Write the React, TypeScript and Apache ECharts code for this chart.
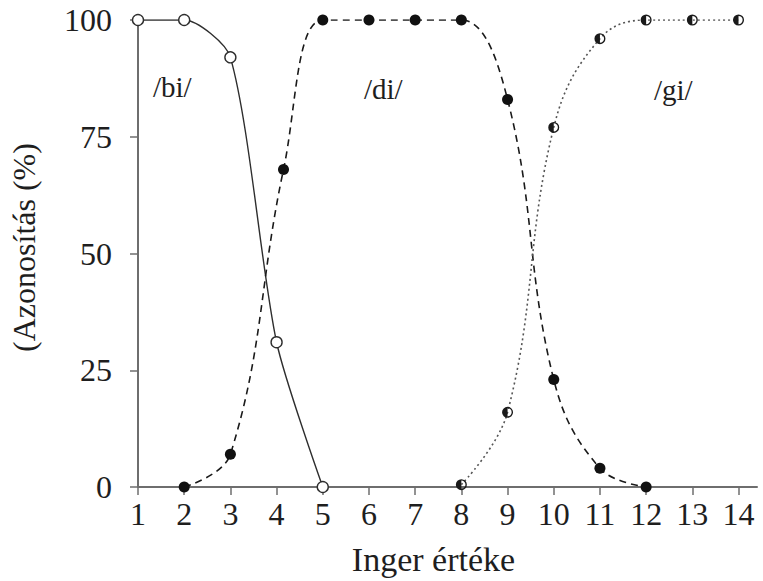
import React, { useEffect, useRef } from "react";
import * as echarts from "echarts";

// Stimulus steps on the horizontal axis
const stimulusTicks = [1, 2, 3, 4, 5, 6, 7, 8, 9, 10, 11, 12, 13, 14];
const percentTicks = [0, 25, 50, 75, 100];

// Identification curves (percent of responses)
const biX = [1, 2, 3, 4, 5];
const biY = [100, 100, 92, 31, 0];

const diX = [2, 3, 4.15, 5, 6, 7, 8, 9, 10, 11, 12];
const diY = [0, 7, 68, 100, 100, 100, 100, 83, 23, 4, 0];

const giX = [8, 9, 10, 11, 12, 13, 14];
const giY = [0.5, 16, 77, 96, 100, 100, 100];

const FONT = "Times New Roman, Liberation Serif, DejaVu Serif, serif";
const INK = "#1e1e1e";
const AXIS = "#6e6e6e";

// ring with its left half filled in
const HALF_DOT =
  "path://M10 0A10 10 0 1 1 10 20A10 10 0 1 1 10 0ZM10 2.5L10 17.5A7.5 7.5 0 0 0 10 2.5Z";

const pairs = (xs: number[], ys: number[]) => xs.map((x, i) => [x, ys[i]]);

export default function App() {
  const ref = useRef<HTMLDivElement>(null);

  useEffect(() => {
    if (!ref.current) return;
    const chart = echarts.init(ref.current, undefined, { renderer: "svg" });
    chart.setOption({
      animation: false,
      backgroundColor: "#ffffff",
      textStyle: { fontFamily: FONT },
      grid: { left: 136, right: 6, top: 20, bottom: 93 },
      xAxis: {
        type: "value",
        min: 1,
        max: 14.4,
        name: "Inger értéke",
        nameLocation: "middle",
        nameGap: 55,
        nameTextStyle: {
          fontFamily: FONT,
          fontSize: 34,
          color: INK,
          padding: [0, 28, 0, 0],
        },
        splitLine: { show: false },
        axisLine: { onZero: false, lineStyle: { color: AXIS, width: 2 } },
        axisTick: {
          customValues: stimulusTicks,
          length: 8,
          lineStyle: { color: AXIS, width: 1.5 },
        },
        axisLabel: {
          customValues: stimulusTicks,
          fontFamily: FONT,
          fontSize: 32,
          color: INK,
          margin: 11,
        },
      },
      yAxis: {
        type: "value",
        min: 0,
        max: 100,
        interval: 25,
        name: "(Azonosítás (%)",
        nameLocation: "middle",
        nameGap: 98,
        nameTextStyle: { fontFamily: FONT, fontSize: 32, color: INK, padding: [0, 0, 0, 12] },
        splitLine: { show: false },
        axisLine: { show: true, lineStyle: { color: AXIS, width: 2 } },
        axisTick: {
          show: true,
          customValues: percentTicks,
          length: 8,
          lineStyle: { color: AXIS, width: 1.5 },
        },
        axisLabel: {
          fontFamily: FONT,
          fontSize: 32,
          color: INK,
          margin: 26,
        },
      },
      graphic: [
        { type: "text", left: 153, top: 72, style: { text: "/bi/", fontFamily: FONT, fontSize: 29, fill: INK } },
        { type: "text", left: 364, top: 74, style: { text: "/di/", fontFamily: FONT, fontSize: 29, fill: INK } },
        { type: "text", left: 654, top: 75, style: { text: "/gi/", fontFamily: FONT, fontSize: 29, fill: INK } },
      ],
      series: [
        {
          name: "/bi/",
          type: "line",
          data: pairs(biX, biY),
          smooth: 0.25,
          symbol: "circle",
          symbolSize: 11,
          lineStyle: { color: "#2e2e2e", width: 1.4 },
          itemStyle: { color: "#ffffff", borderColor: "#2e2e2e", borderWidth: 1.4 },
          z: 3,
        },
        {
          name: "/di/",
          type: "line",
          data: pairs(diX, diY),
          smooth: 0.4,
          symbol: "circle",
          symbolSize: 11,
          lineStyle: { color: "#1a1a1a", width: 1.6, type: [7, 5] },
          itemStyle: { color: "#111111", borderColor: "#111111", borderWidth: 0 },
          z: 3,
        },
        {
          name: "/gi/",
          type: "line",
          data: pairs(giX, giY),
          smooth: 0.4,
          symbol: HALF_DOT,
          symbolSize: 11,
          lineStyle: { color: "#555555", width: 1.6, type: [2, 3] },
          itemStyle: { color: "#1a1a1a", borderWidth: 0 },
          z: 4,
        },
      ],
    });
    return () => chart.dispose();
  }, []);

  return (
    <div
      ref={ref}
      style={{ position: "fixed", left: 0, top: 0, width: 763, height: 581, background: "#fff" }}
    />
  );
}
